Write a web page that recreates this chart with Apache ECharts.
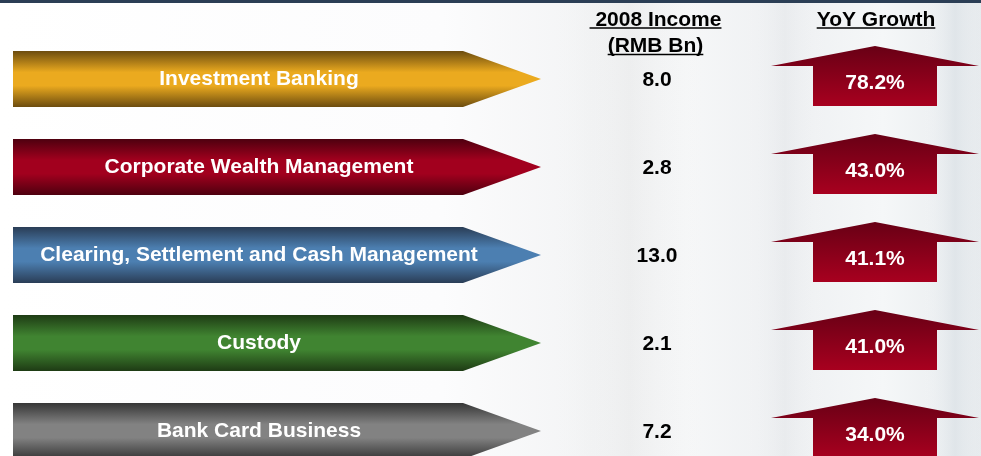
<!DOCTYPE html>
<html><head><meta charset="utf-8">
<script src="https://cdn.jsdelivr.net/npm/echarts@6/dist/echarts.min.js"></script>
<style>html,body{margin:0;padding:0;background:#fff}#c{width:981px;height:456px}</style>
</head><body><div id="c"></div>
<script>
// ---- data ----
const categories = ['Investment Banking', 'Corporate Wealth Management', 'Clearing, Settlement and Cash Management', 'Custody', 'Bank Card Business'];
const income2008 = [8.0, 2.8, 13.0, 2.1, 7.2];
const yoyGrowth = [78.2, 43.0, 41.1, 41.0, 34.0];
const headerIncome = [' 2008 Income', '(RMB Bn)'];
const headerGrowth = ['YoY Growth'];

// ---- styles ----
const FONT = 'bold 21px Arial, "Liberation Sans", sans-serif';
const palette = [
  ['#6c4c0f', '#ebaa1f'],
  ['#4e000f', '#a2001e'],
  ['#2a3d56', '#4c7fb1'],
  ['#1e3b14', '#408431'],
  ['#363636', '#828282']
];
const G = echarts.graphic;
function bandGrad(dark, bright) {
  return new G.LinearGradient(0, 0, 0, 1, [
    {offset: 0, color: dark}, {offset: 0.38, color: bright},
    {offset: 0.62, color: bright}, {offset: 1, color: dark}]);
}
const upGrad = () => new G.LinearGradient(0, 0, 0, 1, [
  {offset: 0, color: '#680015'}, {offset: 1, color: '#a8001f'}]);

const mctx = document.createElement('canvas').getContext('2d');
mctx.font = FONT;
const tw = t => mctx.measureText(t).width;

function headerEls() {
  const els = [];
  const items = [
    {t: headerIncome[0], x: 655.5, y: 20},
    {t: headerIncome[1], x: 655.5, y: 46.5},
    {t: headerGrowth[0], x: 876, y: 20}
  ];
  items.forEach(it => {
    els.push({type: 'text', z: 10, style: {text: it.t, x: it.x, y: it.y, font: FONT, fill: '#000', align: 'center', verticalAlign: 'middle'}});
    const w = tw(it.t);
    els.push({type: 'line', z: 10, shape: {x1: it.x - w / 2, y1: it.y + 8, x2: it.x + w / 2, y2: it.y + 8}, style: {stroke: '#000', lineWidth: 1.5}});
  });
  return els;
}

function softBand(x, w, color, z) {
  return {type: 'rect', z: z, shape: {x: x, y: 0, width: w, height: 456},
    style: {fill: new G.LinearGradient(0, 0, 1, 0, [
      {offset: 0, color: 'rgba(255,255,255,0)'}, {offset: 0.5, color: color}, {offset: 1, color: 'rgba(255,255,255,0)'}])}};
}

const chart = echarts.init(document.getElementById('c'), null, {renderer: 'canvas'});
chart.setOption({
  animation: false,
  backgroundColor: '#ffffff',
  grid: {left: 0, right: 0, top: 79, bottom: 25},
  xAxis: {type: 'value', min: 0, max: 981, show: false},
  yAxis: {type: 'category', data: categories, inverse: true, boundaryGap: false, show: false},
  graphic: [
    {type: 'rect', z: -10, shape: {x: 0, y: 0, width: 981, height: 456},
      style: {fill: new G.LinearGradient(0, 0, 1, 0, [
        {offset: 0, color: '#ffffff'}, {offset: 0.45, color: '#fcfcfd'},
        {offset: 0.6, color: '#f3f4f5'}, {offset: 0.7, color: '#f6f7f8'},
        {offset: 0.8, color: '#eef0f2'}, {offset: 0.9, color: '#f5f7f8'},
        {offset: 1, color: '#e6eaed'}])}},
    softBand(540, 180, 'rgba(205,205,205,0.18)', -9),
    softBand(740, 90, 'rgba(215,218,222,0.22)', -9),
    softBand(920, 70, 'rgba(200,210,218,0.30)', -9),
    {type: 'rect', z: 5, shape: {x: 0, y: 0, width: 981, height: 3}, style: {fill: '#2b3e55'}}
  ].concat(headerEls()),
  series: [{
    type: 'custom',
    encode: {y: 0, x: 1},
    data: categories.map((c, i) => [i, income2008[i], yoyGrowth[i]]),
    renderItem: function (params, api) {
      const i = api.value(0);
      const P = x => api.coord([x, i]);
      const c = P(0)[1];
      const xl = P(13)[0], xb = P(463)[0], xt = P(541)[0];
      const h = 28;
      const col = palette[i % palette.length];
      const ux = P(875)[0], uw = P(979)[0] - ux, sw = P(937)[0] - ux;
      return {
        type: 'group',
        children: [
          {type: 'polygon', shape: {points: [[xl, c - h], [xb, c - h], [xt, c], [xb, c + h], [xl, c + h]]},
            style: {fill: bandGrad(col[0], col[1])}},
          {type: 'text', style: {text: categories[i], x: P(259)[0], y: c, font: FONT, fill: '#fff', align: 'center', verticalAlign: 'middle'}},
          {type: 'text', style: {text: api.value(1).toFixed(1), x: P(657)[0], y: c + 1, font: FONT, fill: '#000', align: 'center', verticalAlign: 'middle'}},
          {type: 'polygon', shape: {points: [
              [ux, c - 33], [ux + uw, c - 13], [ux + sw, c - 13], [ux + sw, c + 27],
              [ux - sw, c + 27], [ux - sw, c - 13], [ux - uw, c - 13]]},
            style: {fill: upGrad()}},
          {type: 'text', style: {text: api.value(2).toFixed(1) + '%', x: ux, y: c + 4, font: FONT, fill: '#fff', align: 'center', verticalAlign: 'middle'}}
        ]
      };
    }
  }]
});
</script>
</body></html>
